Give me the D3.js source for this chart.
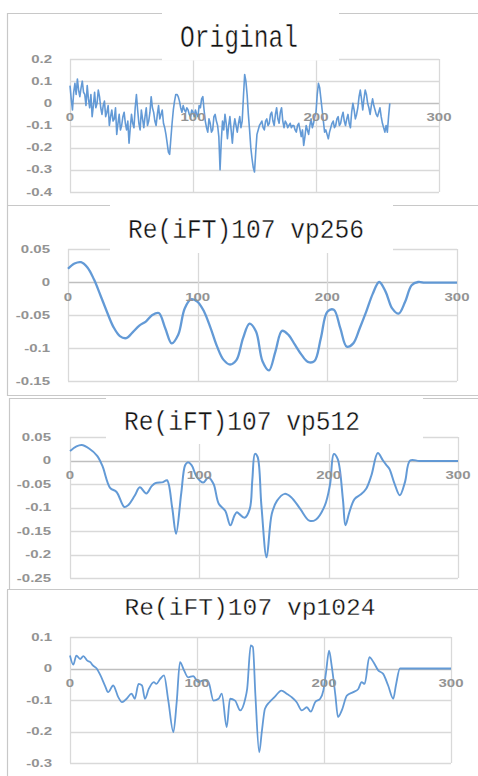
<!DOCTYPE html>
<html><head><meta charset="utf-8">
<script src="https://cdn.jsdelivr.net/npm/d3@7/dist/d3.min.js"></script>
<style>body{margin:0;background:#fff}svg{display:block}</style>
</head><body><svg id="c" width="478" height="776"></svg>
<script>
// ---------- data ----------
const titles = ["Original", "Re(iFT)107 vp256", "Re(iFT)107 vp512", "Re(iFT)107 vp1024"];
const xTicks = [0, 100, 200, 300];

// original signal, one value per sample x = 0..260
const origValues = [
  0.08,0.02,-0.03,0.05,0.09,0.04,0.11,0.06,0.03,0.07,
  0.10,0.05,0.04,-0.01,0.08,0.02,-0.02,0.04,-0.06,-0.01,
  0.05,-0.02,0.00,0.06,0.03,-0.02,-0.05,-0.01,0.01,-0.06,
  -0.04,-0.01,-0.10,-0.06,-0.03,-0.08,-0.07,-0.02,-0.14,-0.09,
  -0.05,-0.12,-0.10,-0.06,-0.04,-0.09,-0.12,-0.08,-0.18,-0.11,
  -0.05,-0.09,-0.11,-0.02,0.04,-0.03,-0.09,-0.12,-0.03,-0.07,
  -0.11,-0.06,-0.02,-0.10,-0.08,-0.04,0.03,-0.02,-0.04,-0.08,
  -0.10,-0.05,-0.01,-0.07,-0.05,-0.03,-0.09,-0.11,-0.14,-0.18,
  -0.22,-0.23,-0.16,-0.09,-0.03,0.01,0.04,0.04,0.03,0.01,
  -0.02,-0.04,-0.01,-0.03,-0.04,-0.02,-0.03,-0.05,-0.06,-0.03,
  -0.04,-0.06,-0.03,-0.05,-0.06,-0.01,-0.02,0.02,0.03,-0.03,
  -0.08,-0.11,-0.13,-0.07,-0.09,-0.13,-0.12,-0.06,-0.05,-0.08,
  -0.10,-0.15,-0.30,-0.17,-0.08,-0.12,-0.05,-0.09,-0.16,-0.10,
  -0.06,-0.12,-0.18,-0.11,-0.07,-0.10,-0.13,-0.09,-0.06,-0.11,
  -0.08,0.03,0.13,0.10,0.04,-0.05,-0.12,-0.20,-0.25,-0.29,
  -0.31,-0.22,-0.14,-0.12,-0.10,-0.09,-0.08,-0.11,-0.12,-0.08,
  -0.07,-0.10,-0.09,-0.05,-0.04,-0.08,-0.10,-0.05,-0.02,-0.07,
  -0.09,-0.04,-0.02,-0.08,-0.11,-0.08,-0.09,-0.11,-0.10,-0.09,
  -0.11,-0.10,-0.10,-0.12,-0.13,-0.10,-0.09,-0.12,-0.15,-0.12,
  -0.19,-0.15,-0.10,-0.12,-0.14,-0.10,-0.07,-0.11,-0.09,-0.06,
  -0.04,0.04,0.09,0.07,0.02,-0.03,-0.08,-0.13,-0.12,-0.14,
  -0.16,-0.13,-0.11,-0.09,-0.08,-0.11,-0.10,-0.07,-0.06,-0.10,
  -0.09,-0.06,-0.04,-0.08,-0.10,-0.07,-0.05,-0.09,-0.11,-0.04,
  0.00,-0.03,-0.07,-0.05,-0.02,0.03,0.06,0.02,-0.03,0.02,
  0.06,0.04,0.00,-0.02,-0.05,-0.01,0.02,-0.01,-0.03,-0.05,
  -0.06,-0.04,-0.02,-0.06,-0.09,-0.11,-0.13,-0.10,-0.13,-0.06,
  0.00
];
const origTicks = [0.2, 0.1, 0, -0.1, -0.2, -0.3, -0.4];

const vp256X = [0,5,10,15,20,25,30,35,40,45,50,55,60,65,70,75,80,85,90,95,100,105,110,115,120,125,130,135,140,145,150,155,160,165,170,175,180,185,190,195,200,205,210,215,220,225,230,235,240,245,250,255,260,265,270,275,280,285,290,295,300];
const vp256Y = [0.020,0.028,0.030,0.022,0.004,-0.020,-0.045,-0.068,-0.082,-0.085,-0.076,-0.066,-0.060,-0.050,-0.047,-0.070,-0.093,-0.080,-0.040,-0.026,-0.030,-0.045,-0.070,-0.098,-0.118,-0.125,-0.118,-0.085,-0.063,-0.075,-0.120,-0.134,-0.105,-0.074,-0.080,-0.095,-0.110,-0.121,-0.120,-0.085,-0.045,-0.042,-0.070,-0.098,-0.093,-0.070,-0.045,-0.018,0.000,-0.015,-0.040,-0.048,-0.030,-0.005,0.000,-0.001,-0.001,-0.001,-0.001,-0.001,-0.001];
const vp256Ticks = [0.05, 0, -0.05, -0.1, -0.15];

const vp512X = [0,5,9,15,21,25,31,36,42,45,50,54,59,63,66,72,75,79,82,86,89,91,94,98,103,107,111,115,120,124,127,129,131,135,139,141,143,145,148,152,156,160,166,171,178,185,190,197,201,204,207,211,213,216,220,225,229,233,238,242,245,247,251,255,259,263,270,280,290,300];
const vp512Y = [0.020,0.030,0.033,0.025,0.010,-0.011,-0.058,-0.067,-0.099,-0.095,-0.075,-0.057,-0.070,-0.055,-0.048,-0.046,-0.042,-0.100,-0.156,-0.070,-0.010,-0.004,-0.010,-0.035,-0.047,-0.036,-0.050,-0.092,-0.107,-0.138,-0.118,-0.110,-0.114,-0.122,-0.103,-0.040,0.014,0.008,-0.096,-0.206,-0.114,-0.086,-0.071,-0.078,-0.103,-0.128,-0.126,-0.096,-0.052,0.014,0.003,-0.082,-0.138,-0.110,-0.082,-0.072,-0.060,-0.032,0.016,0.000,-0.011,-0.018,-0.050,-0.074,-0.046,0.000,-0.001,-0.001,-0.001,-0.001];
const vp512Ticks = [0.05, 0, -0.05, -0.1, -0.15, -0.2, -0.25];

const vp1024X = [0,2.6,5,8,10.5,13.6,16,18,21,24,27.5,30,34,38,41,44.6,48.5,51,54,56.7,59,62,66,68,71,74,77.4,81.4,84,86.6,89.8,93,97,101,105,109,113,117,119.5,123.4,126,130,134,138,139.5,142.3,144,146,149,151,153.5,157,161,166.5,170.6,174.5,178.5,182.5,186.5,189.6,193,197,199.5,201.6,204,206,209,211,214,218,223,227,229.6,232,235.7,239,242.7,246.6,250.5,254.5,256.6,259.8,270,280,290,300];
const vp1024Y = [0.041,0.012,0.041,0.030,0.039,0.025,0.020,0.010,0.000,-0.022,-0.054,-0.075,-0.054,-0.091,-0.107,-0.096,-0.080,-0.096,-0.049,-0.054,-0.096,-0.065,-0.043,-0.049,-0.033,-0.022,-0.102,-0.202,-0.107,0.020,-0.006,-0.028,-0.024,-0.043,-0.038,-0.043,-0.102,-0.096,-0.080,-0.186,-0.096,-0.102,-0.133,-0.096,-0.065,0.073,0.068,-0.086,-0.266,-0.202,-0.128,-0.107,-0.091,-0.070,-0.080,-0.091,-0.107,-0.133,-0.123,-0.137,-0.107,-0.096,-0.070,-0.012,0.057,0.010,-0.086,-0.154,-0.133,-0.086,-0.075,-0.065,-0.043,-0.049,0.036,0.020,-0.006,-0.017,-0.054,-0.096,-0.054,0.000,0.000,0.000,0.000,0.000];
const vp1024Ticks = [0.1, 0, -0.1, -0.2, -0.3];

// ---------- drawing ----------
const svg = d3.select("#c");
const BLUE = "#5b95d4", GRID = "#d9d9d9", AXIS = "#bfbfbf", BORDER = "#c8c8c8", LAB = "#939393";

const panels = [
  { title: titles[0], xs: origValues.map((_, i) => i), ys: origValues, ticks: origTicks,
    plot: {l:70, r:439, t:59, b:192}, labR: 52, labDy: 14, lw: 1.6, curve: d3.curveLinear,
    box: {x:162, y:0, w:177, h:60.5}, tx: 239, ty: 47, sy: 1.05 },
  { title: titles[1], xs: vp256X, ys: vp256Y, ticks: vp256Ticks,
    plot: {l:68, r:457, t:249, b:381}, labR: 50, labDy: 15, lw: 2.3, curve: d3.curveCatmullRom.alpha(0.5),
    box: {x:110, y:197, w:283, h:56}, tx: 246, ty: 237.5, sy: 0.93 },
  { title: titles[2], xs: vp512X, ys: vp512Y, ticks: vp512Ticks,
    plot: {l:70, r:458, t:437, b:578}, labR: 51, labDy: 15, lw: 2, curve: d3.curveCatmullRom.alpha(0.5),
    box: {x:106, y:396, w:317, h:48}, tx: 242, ty: 429.5, sy: 0.91 },
  { title: titles[3], xs: vp1024X, ys: vp1024Y, ticks: vp1024Ticks,
    plot: {l:70, r:451, t:637, b:763}, labR: 52, labDy: 15, lw: 1.8, curve: d3.curveMonotoneX,
    box: {x:106, y:591, w:306, h:35}, tx: 250, ty: 615, sy: 0.8 }
];

// chart-area borders (collage of four screenshots)
const borders = [
  [7,13.5,478,13.5],[7.5,13,7.5,206],[7,205.5,478,205.5],
  [7.5,206,7.5,396],[7,395.5,478,395.5],[9,398.5,478,398.5],[9.5,398,9.5,590],
  [7,589.5,478,589.5],[7.5,590,7.5,776]
];
svg.append("g").selectAll("line").data(borders).join("line")
  .attr("x1", d => d[0]).attr("y1", d => d[1]).attr("x2", d => d[2]).attr("y2", d => d[3])
  .attr("stroke", BORDER).attr("stroke-width", 1.2);

const fmt = v => String(+v.toFixed(2));
const LSX = 1.5; // axis labels appear horizontally stretched

panels.forEach(p => {
  const g = svg.append("g");
  const x = d3.scaleLinear().domain([0, 300]).range([p.plot.l, p.plot.r]);
  const y = d3.scaleLinear().domain([d3.min(p.ticks), d3.max(p.ticks)]).range([p.plot.b, p.plot.t]);

  g.append("g").selectAll("line").data(p.ticks).join("line")
    .attr("x1", p.plot.l).attr("x2", p.plot.r)
    .attr("y1", d => Math.round(y(d)) + 0.5).attr("y2", d => Math.round(y(d)) + 0.5)
    .attr("stroke", d => d === 0 ? AXIS : GRID).attr("stroke-width", 1.3);
  g.append("g").selectAll("line").data(xTicks).join("line")
    .attr("x1", d => Math.round(x(d)) + 0.5).attr("x2", d => Math.round(x(d)) + 0.5)
    .attr("y1", p.plot.t).attr("y2", p.plot.b)
    .attr("stroke", GRID).attr("stroke-width", 1.3);

  const pts = p.xs.map((v, i) => [v, p.ys[i]]);
  g.append("path").datum(pts)
    .attr("d", d3.line().x(d => x(d[0])).y(d => y(d[1])).curve(p.curve))
    .attr("fill", "none").attr("stroke", BLUE).attr("stroke-width", p.lw)
    .attr("stroke-linejoin", "round").attr("opacity", 0.95);

  g.append("g").selectAll("text").data(p.ticks).join("text")
    .attr("transform", d => `translate(${p.labR},${y(d)}) scale(${LSX},1)`)
    .attr("dy", "0.35em").attr("text-anchor", "end").attr("fill", LAB)
    .attr("font-family", "Liberation Sans, Arial, sans-serif").attr("font-size", 10)
    .attr("font-weight", "bold").text(fmt);
  g.append("g").selectAll("text").data(xTicks).join("text")
    .attr("transform", d => `translate(${x(d)},${y(0) + p.labDy}) scale(${LSX},1)`)
    .attr("dy", "0.35em").attr("text-anchor", "middle").attr("fill", LAB)
    .attr("font-family", "Liberation Sans, Arial, sans-serif").attr("font-size", 10)
    .attr("font-weight", "bold").text(d => d);
});

panels.forEach(p => {
  svg.append("rect").attr("x", p.box.x).attr("y", p.box.y).attr("width", p.box.w).attr("height", p.box.h)
    .attr("fill", "#fff");
  svg.append("text")
    .attr("transform", `translate(${p.tx},${p.ty}) scale(0.82,${p.sy})`)
    .attr("text-anchor", "middle").attr("fill", "#111")
    .attr("stroke", "#fff").attr("stroke-width", 0.4)
    .attr("font-family", "Liberation Mono, DejaVu Sans Mono, monospace").attr("font-size", 30)
    .text(p.title);
});
</script>
</body></html>
